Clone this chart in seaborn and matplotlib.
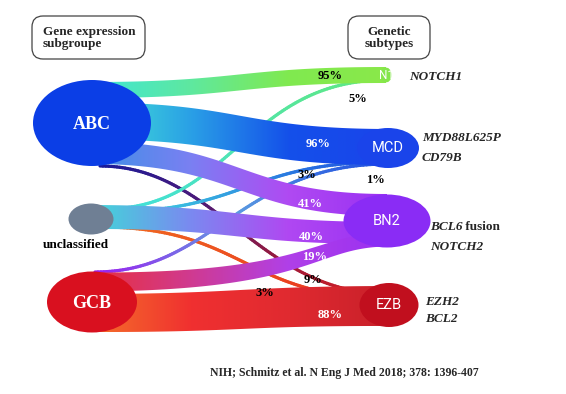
import numpy as np
import matplotlib
matplotlib.use("Agg")
import matplotlib.pyplot as plt
from matplotlib.patches import Ellipse, Polygon, FancyBboxPatch
from matplotlib.collections import LineCollection
from matplotlib.colors import LinearSegmentedColormap
import seaborn as sns

# ---- data: share of each genetic subtype coming from each expression subgroup ----
group_names = ["ABC", "unclassified", "GCB"]
subtype_names = ["N1", "MCD", "BN2", "EZB"]
subtype_genes = [["NOTCH1"], ["MYD88L625P", "CD79B"], ["BCL6|fusion", "NOTCH2"], ["EZH2", "BCL2"]]

flow_source = ["ABC", "ABC", "ABC", "ABC",
               "unclassified", "unclassified", "unclassified", "unclassified",
               "GCB", "GCB", "GCB"]
flow_target = ["N1", "MCD", "BN2", "EZB",
               "N1", "MCD", "BN2", "EZB",
               "MCD", "BN2", "EZB"]
flow_pct = [95, 96, 41, 3,
            5, 3, 40, 9,
            1, 19, 88]

# ---- layout (pixel space of the 566x394 picture) ----
group_xy = [(92, 123), (91, 219), (92, 302)]
group_wh = [(118, 86), (45, 31), (90, 61)]
group_colors = ["#0b3ee6", "#6f7f94", "#d9101f"]

subtype_xy = [(386, 75), (388, 148), (387, 221), (389, 305)]
subtype_wh = [(27, 16), (62, 40), (87, 53), (59, 44)]
subtype_colors = ["#84e64c", "#1a44ea", "#8a2cf5", "#c10f1e"]

# ribbon anchor points (centre line), ribbon widths at both ends, curve handles
flow_start = [(92, 90), (92, 121), (92, 153), (100, 166),
              (105, 209), (105, 212), (91, 217), (100, 227),
              (95, 272), (92, 282), (92, 313)]
flow_end = [(386, 75), (388, 147), (387, 205), (389, 294),
            (386, 80), (388, 162), (387, 233), (389, 298),
            (388, 164), (387, 240), (389, 306)]
width_start = [16, 37, 22, 0, 0, 0, 24, 0, 0, 19, 38]
width_end = [16, 36, 22, 0, 0, 0, 22, 0, 0, 13, 40]
flow_bend = [(0.5, 0.5), (0.5, 0.5), (0.5, 0.5), (0.4, 0.45),
             (0.45, 0.5), (0.5, 0.5), (0.5, 0.5), (0.5, 0.5),
             (0.4, 0.5), (0.75, 0.25), (0.5, 0.5)]
flow_colors = [
    ["#3fe6d6", "#5ee8a0", "#80ea50", "#8ae84a"],
    ["#45e8d4", "#2aa0e6", "#1450ea", "#1a44ea"],
    ["#3d90e6", "#7a80f2", "#b04af2", "#9a30f2"],
    ["#1a1a9a", "#4a1a7a", "#9a1a3a", "#e02020"],
    ["#40e0e0", "#60e880"],
    ["#40d8e0", "#2050e0"],
    ["#40d8d8", "#7a8af0", "#b048f2", "#9a30f2"],
    ["#f06a20", "#e83020"],
    ["#9a20f0", "#60a0e0", "#2050e0"],
    ["#e8303c", "#d03a90", "#b040e8", "#9a30f2"],
    ["#f5702a", "#f03030", "#e02a30", "#c8202a"],
]
label_xy = [(330, 76), (318, 144), (310, 204), (265, 293),
            (358, 99), (307, 175), (311, 237), (313, 280),
            (375, 180), (315, 257), (330, 315)]


def bezier(p0, p3, n=80, bend=(0.5, 0.5)):
    t = np.linspace(0, 1, n)[:, None]
    p0 = np.asarray(p0, float)
    p3 = np.asarray(p3, float)
    dx = p3[0] - p0[0]
    p1 = p0 + [bend[0] * dx, 0]
    p2 = p3 - [bend[1] * dx, 0]
    return (1 - t) ** 3 * p0 + 3 * (1 - t) ** 2 * t * p1 + 3 * (1 - t) * t ** 2 * p2 + t ** 3 * p3


def draw_band(ax, start, end, w0, w1, bend, colors):
    mid = bezier(start, end, bend=bend)
    w = np.linspace(w0, w1, len(mid))
    top = mid - np.c_[np.zeros_like(w), w / 2]
    bot = mid + np.c_[np.zeros_like(w), w / 2]
    verts = np.vstack([top, bot[::-1]])
    poly = Polygon(verts, closed=True, facecolor="none", edgecolor="none")
    ax.add_patch(poly)
    cmap = LinearSegmentedColormap.from_list("band", sns.blend_palette(colors, 256))
    im = ax.imshow(np.linspace(0, 1, 256)[None, :], cmap=cmap, aspect="auto",
                   extent=(start[0], end[0], verts[:, 1].max(), verts[:, 1].min()), zorder=2)
    im.set_clip_path(poly)


def draw_thin(ax, start, end, bend, colors, lw=2.3):
    pts = bezier(start, end, n=120, bend=bend)
    segs = np.stack([pts[:-1], pts[1:]], axis=1)
    cols = sns.blend_palette(colors, len(segs))
    ax.add_collection(LineCollection(segs, colors=cols, linewidths=lw,
                                     capstyle="round", zorder=1))


sns.set_theme(style="white")
serif = ["Liberation Serif", "DejaVu Serif"]
plt.rcParams["font.family"] = serif

fig = plt.figure(figsize=(5.66, 3.94), dpi=100)
ax = fig.add_axes([0, 0, 1, 1])

for pct, p0, p1, w0, w1, bend, cols in zip(flow_pct, flow_start, flow_end, width_start,
                                            width_end, flow_bend, flow_colors):
    if pct < 10:
        draw_thin(ax, p0, p1, bend, cols)
    else:
        draw_band(ax, p0, p1, w0, w1, bend, cols)

# expression subgroups
for name, (x, y), (w, h), c in zip(group_names, group_xy, group_wh, group_colors):
    ax.add_patch(Ellipse((x, y), w, h, facecolor=c, edgecolor="none", zorder=3))
    if name == "unclassified":
        ax.text(x - 15, y + h / 2 + 10, name, ha="center", va="center",
                fontsize=9.5, fontweight="bold", color="black", zorder=5)
    else:
        ax.text(x, y + 1, name, ha="center", va="center", fontsize=13,
                fontweight="bold", color="white", zorder=5)

# genetic subtypes
gene_x = [409, 422, 430, 425]
gene_y = [77, 138, 227, 302]
gene_gap = [0, 20, 20, 17]
for name, (x, y), (w, h), c, genes, gx, gy0, gap in zip(
        subtype_names, subtype_xy, subtype_wh, subtype_colors,
        subtype_genes, gene_x, gene_y, gene_gap):
    if name == "N1":
        ax.add_patch(FancyBboxPatch((x - w / 2 + h / 2, y - h / 2), w - h, h,
                                    boxstyle=f"round,pad=0,rounding_size={h / 2}",
                                    facecolor=c, edgecolor="none", zorder=3))
        fs = 8.5
    else:
        ax.add_patch(Ellipse((x, y), w, h, facecolor=c, edgecolor="none", zorder=3))
        fs = 10.5
    ax.text(x, y, name, ha="center", va="center", fontsize=fs, color="white",
            family=["Roboto", "DejaVu Sans"], zorder=5)

    for i, g in enumerate(genes):
        if "|" in g:
            gene, rest = g.split("|")
            t = ax.text(gx, gy0 + i * gap, gene, ha="left", va="center", fontsize=9.5,
                        fontweight="bold", style="italic", zorder=5)
            ax.annotate(" " + rest, xy=(1, 0.5), xycoords=t, ha="left", va="center",
                        fontsize=9.5, fontweight="bold", zorder=5)
        else:
            ax.text(gx, gy0 + i * gap, g, ha="left", va="center", fontsize=9.5,
                    fontweight="bold", style="italic", zorder=5)

# percentage labels
for pct, (x, y) in zip(flow_pct, label_xy):
    color = "black" if pct < 10 or pct == 95 else "white"
    ax.text(x, y, f"{pct}%", ha="center", va="center", fontsize=9,
            fontweight="bold", color=color, zorder=6)

# header boxes
for (x, y, w, h), txt in [((32, 16, 113, 43), "Gene expression\nsubgroupe"),
                          ((348, 16, 82, 43), "Genetic\nsubtypes")]:
    ax.add_patch(FancyBboxPatch((x, y), w, h, boxstyle="round,pad=0,rounding_size=11",
                                facecolor="white", edgecolor="#444444", lw=0.9, zorder=3))
    align = "left" if w > 100 else "center"
    tx = x + 11 if align == "left" else x + w / 2
    ax.text(tx, y + h / 2, txt, ha=align, va="center", fontsize=9.5,
            fontweight="bold", linespacing=1.0, zorder=5)

ax.text(344, 373, "NIH; Schmitz et al. N Eng J Med 2018; 378: 1396-407",
        ha="center", va="center", fontsize=8.5, fontweight="bold", zorder=5)

ax.set_xlim(0, 566)
ax.set_ylim(394, 0)
ax.set_aspect("auto")
ax.axis("off")

fig.savefig("out.png", dpi=100)
